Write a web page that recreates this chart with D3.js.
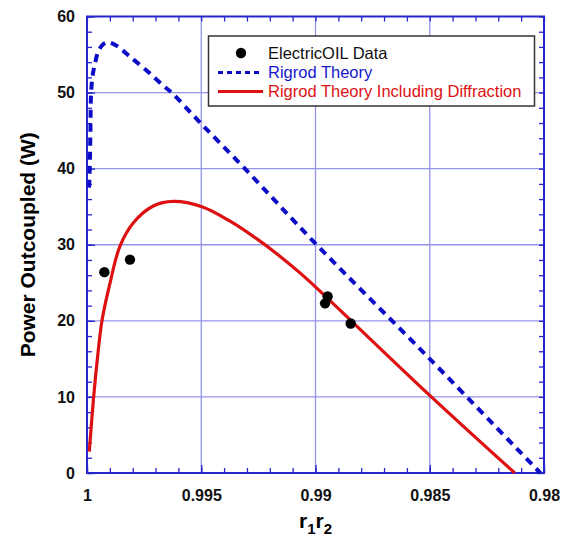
<!DOCTYPE html>
<html>
<head>
<meta charset="utf-8">
<script src="https://cdn.jsdelivr.net/npm/d3@7"></script>
<style>
  body { margin: 0; background: #fff; }
  text { font-family: "Liberation Sans", Arial, sans-serif; }
</style>
</head>
<body>
<div id="chart"></div>
<script>
/* global d3:false */

// measured data: ElectricOIL points
var dataX = [0.99924, 0.99812, 0.98947, 0.98958, 0.98846];
var dataY = [26.4, 28.05, 23.2, 22.3, 19.65];

// Rigrod theory (blue dashed)
var rigrodX = [0.99991, 0.99988, 0.99985, 0.99982, 0.99974, 0.99965, 0.99952, 0.99934,
               0.99912, 0.99878, 0.99809, 0.99724, 0.99666, 0.99630, 0.99500, 0.99309,
               0.98995, 0.98500, 0.98016];
var rigrodY = [37.5, 40, 45, 50, 52.5, 53.8, 55.3, 56.2,
               56.6, 56.3, 54.65, 52.5, 50.9, 50.0, 45.9, 40,
               30, 15.0, 0];

// Rigrod theory including diffraction (red)
var diffX = [0.99990, 0.99972, 0.99958, 0.99934, 0.99899, 0.99856, 0.99797, 0.99710,
             0.99622, 0.99497, 0.99374, 0.99258, 0.99156, 0.99068, 0.98998, 0.98500,
             0.98128];
var diffY = [2.8, 9.6, 14.0, 20.1, 25.0, 29.8, 32.9, 35.1,
             35.7, 35.0, 33.1, 30.8, 28.5, 26.3, 24.4, 10.2,
             0];

var xMajor = [1, 0.995, 0.99, 0.985, 0.98];
var xLabels = ["1", "0.995", "0.99", "0.985", "0.98"];
var yMajor = [0, 10, 20, 30, 40, 50, 60];

var legendLabels = ["ElectricOIL Data", "Rigrod Theory", "Rigrod Theory Including Diffraction"];

var W = 568, H = 538;
var m = { left: 87, right: 24, top: 16.5, bottom: 65 };
var blue = "#0c0cc8", red = "#dd1111", frame = "#2626cc", grid = "#9494ea";

var svg = d3.select("#chart").append("svg")
  .attr("width", W)
  .attr("height", H);

var x = d3.scaleLinear().domain([1, 0.98]).range([m.left, W - m.right]);
var y = d3.scaleLinear().domain([0, 60]).range([H - m.bottom, m.top]);

var pw = W - m.right - m.left, ph = H - m.bottom - m.top;

// gridlines at major ticks
svg.append("g").selectAll("line.gx")
  .data(xMajor.slice(1, -1)).enter().append("line")
  .attr("x1", function(d){ return x(d); }).attr("x2", function(d){ return x(d); })
  .attr("y1", y(0)).attr("y2", y(60))
  .style("stroke", grid).style("stroke-width", 1.3);
svg.append("g").selectAll("line.gy")
  .data(yMajor.slice(1, -1)).enter().append("line")
  .attr("y1", function(d){ return y(d); }).attr("y2", function(d){ return y(d); })
  .attr("x1", x(1)).attr("x2", x(0.98))
  .style("stroke", grid).style("stroke-width", 1.3);

// minor ticks every 0.001 / 2 W, inward on all sides
var xMinor = d3.range(0, 21).map(function(i){ return +(1 - i * 0.001).toFixed(3); });
var yMinor = d3.range(0, 31).map(function(i){ return i * 2; });

function styleAxis(g) {
  g.select(".domain").remove();
  g.selectAll(".tick line").style("stroke", frame).style("stroke-width", 1.3);
  g.selectAll("text").style("font-size", "16px").style("font-weight", "bold").style("fill", "#111");
}

svg.append("g").attr("transform", "translate(0," + y(0) + ")")
  .call(d3.axisBottom(x).tickValues(xMinor).tickSize(-5).tickFormat(""))
  .call(styleAxis);
svg.append("g").attr("transform", "translate(0," + y(60) + ")")
  .call(d3.axisTop(x).tickValues(xMinor).tickSize(-5).tickFormat(""))
  .call(styleAxis);
svg.append("g").attr("transform", "translate(" + x(1) + ",0)")
  .call(d3.axisLeft(y).tickValues(yMinor).tickSize(-5).tickFormat(""))
  .call(styleAxis);
svg.append("g").attr("transform", "translate(" + x(0.98) + ",0)")
  .call(d3.axisRight(y).tickValues(yMinor).tickSize(-5).tickFormat(""))
  .call(styleAxis);

// major tick labels
svg.append("g").attr("transform", "translate(0," + y(0) + ")")
  .call(d3.axisBottom(x).tickValues(xMajor).tickSize(-8).tickPadding(17)
    .tickFormat(function(d, i){ return xLabels[i]; }))
  .call(styleAxis);
svg.append("g").attr("transform", "translate(" + x(1) + ",0)")
  .call(d3.axisLeft(y).tickValues(yMajor).tickSize(-8).tickPadding(12))
  .call(styleAxis);

// frame
svg.append("rect")
  .attr("x", m.left).attr("y", m.top).attr("width", pw).attr("height", ph)
  .style("fill", "none").style("stroke", frame).style("stroke-width", 2);

// curves
function toPts(xs, ys) {
  return xs.map(function(d, i){ return [d, ys[i]]; });
}
var line = d3.line()
  .x(function(d){ return x(d[0]); })
  .y(function(d){ return y(d[1]); })
  .curve(d3.curveCatmullRom.alpha(0.5));

svg.append("path")
  .datum(toPts(rigrodX, rigrodY))
  .attr("d", line)
  .style("fill", "none").style("stroke", blue)
  .style("stroke-width", 4).style("stroke-dasharray", "8,6");

svg.append("path")
  .datum(toPts(diffX, diffY))
  .attr("d", line)
  .style("fill", "none").style("stroke", red)
  .style("stroke-width", 3.2);

svg.append("g").selectAll("circle")
  .data(toPts(dataX, dataY)).enter().append("circle")
  .attr("cx", function(d){ return x(d[0]); })
  .attr("cy", function(d){ return y(d[1]); })
  .attr("r", 5.2)
  .style("fill", "#000");

// legend
var lg = svg.append("g");
lg.append("rect")
  .attr("x", 208.5).attr("y", 36).attr("width", 326).attr("height", 70)
  .style("fill", "#fff").style("stroke", "#333").style("stroke-width", 1.5);
var rows = [53, 72.5, 91.5];
var colors = ["#111", "#1616cc", red];
lg.append("circle").attr("cx", 241).attr("cy", rows[0]).attr("r", 5.2).style("fill", "#000");
lg.append("line").attr("x1", 218).attr("x2", 263).attr("y1", rows[1]).attr("y2", rows[1])
  .style("stroke", blue).style("stroke-width", 3).style("stroke-dasharray", "5,4");
lg.append("line").attr("x1", 218).attr("x2", 263).attr("y1", rows[2]).attr("y2", rows[2])
  .style("stroke", red).style("stroke-width", 3);
lg.selectAll("text").data(legendLabels).enter().append("text")
  .attr("x", 268)
  .attr("y", function(d, i){ return rows[i] + 5.5; })
  .style("font-size", "16.5px")
  .style("fill", function(d, i){ return colors[i]; })
  .text(function(d){ return d; });

// axis titles
var xt = svg.append("text")
  .attr("x", (m.left + W - m.right) / 2).attr("y", 528)
  .attr("text-anchor", "middle")
  .style("font-size", "21px").style("font-weight", "bold");
xt.append("tspan").text("r");
xt.append("tspan").attr("dy", 6).style("font-size", "15px").text("1");
xt.append("tspan").attr("dy", -6).text("r");
xt.append("tspan").attr("dy", 6).style("font-size", "15px").text("2");

svg.append("text")
  .attr("transform", "translate(35," + (m.top + ph / 2) + ") rotate(-90)")
  .attr("text-anchor", "middle")
  .style("font-size", "21px").style("font-weight", "bold")
  .text("Power Outcoupled (W)");
</script>
</body>
</html>
